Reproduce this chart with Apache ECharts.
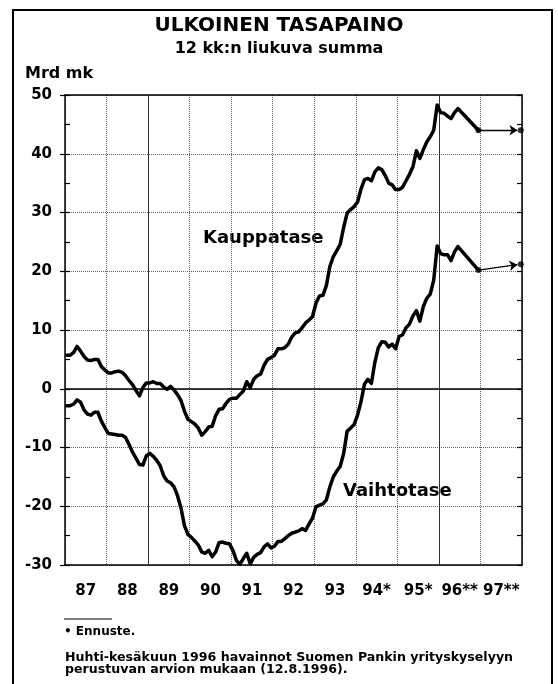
<!DOCTYPE html>
<html>
<head>
<meta charset="utf-8">
<script src="https://cdn.jsdelivr.net/npm/echarts@6/dist/echarts.min.js"></script>
<style>
  html, body { margin: 0; padding: 0; background: #fff; }
  #chart { width: 558px; height: 684px; }
</style>
</head>
<body>
<div id="chart"></div>
<script>
// vuosiselitteet (x-akseli)
var yearLabels = ["87", "88", "89", "90", "91", "92", "93", "94*", "95*", "96**", "97**"];
var yTicks = [-30, -20, -10, 0, 10, 20, 30, 40, 50];

// 12 kk liukuva summa, mrd mk, kuukausittain 1/1987 - 6/1996
var kauppatase = [
  5.7, 5.7, 6.2, 7.2, 6.4, 5.5, 4.9, 4.8, 5.0, 5.0, 3.8, 3.2,
  2.7, 2.7, 2.9, 3.0, 2.8, 2.2, 1.4, 0.7, -0.3, -1.2, 0.2, 1.0,
  1.0, 1.2, 0.9, 0.9, 0.3, -0.1, 0.4, -0.2, -1.0, -2.0, -3.8, -5.2,
  -5.6, -6.0, -6.7, -7.9, -7.3, -6.5, -6.4, -4.6, -3.5, -3.4, -2.5, -1.8,
  -1.6, -1.6, -1.0, -0.4, 1.2, 0.2, 1.6, 2.2, 2.5, 4.0, 5.0, 5.3,
  5.7, 6.8, 6.8, 7.0, 7.6, 8.8, 9.5, 9.7, 10.4, 11.2, 11.7, 12.3,
  14.6, 15.8, 15.9, 17.6, 20.8, 22.5, 23.5, 24.6, 27.5, 29.9, 30.5, 31.0,
  31.8, 34.0, 35.6, 35.8, 35.4, 36.9, 37.6, 37.3, 36.3, 35.0, 34.7, 33.9,
  33.9, 34.3, 35.4, 36.5, 37.8, 40.5, 39.2, 40.7, 42.0, 42.9, 44.0, 48.3,
  47.0, 46.9, 46.4, 46.0, 47.0, 47.7
];
var vaihtotase = [
  -2.9, -2.9, -2.6, -1.9, -2.3, -3.6, -4.3, -4.5, -4.0, -4.0, -5.5, -6.6,
  -7.6, -7.7, -7.8, -7.9, -7.9, -8.3, -9.5, -10.8, -11.8, -12.9, -13.0, -11.4,
  -11.0, -11.5, -12.2, -13.1, -14.8, -15.7, -16.0, -16.7, -18.2, -20.3, -23.3, -24.8,
  -25.3, -25.9, -26.6, -27.8, -28.0, -27.5, -28.6, -27.8, -26.2, -26.1, -26.3, -26.4,
  -27.5, -29.2, -29.9, -28.9, -28.0, -29.8, -28.7, -28.2, -27.9, -26.9, -26.4, -27.1,
  -26.8, -26.0, -26.0, -25.5, -25.0, -24.6, -24.4, -24.2, -23.8, -24.1, -23.0, -22.0,
  -20.1, -19.8, -19.6, -18.9, -16.7, -15.0, -14.0, -13.2, -11.0, -7.2, -6.7, -6.1,
  -4.5, -2.2, 0.8, 1.6, 0.9, 4.5, 7.0, 8.0, 7.9, 7.1, 7.6, 6.8,
  8.9, 9.2, 10.4, 11.0, 12.4, 13.3, 11.5, 14.0, 15.4, 16.1, 18.5, 24.3,
  23.0, 22.8, 22.8, 21.8, 23.3, 24.2
];

// ennusteet vuosien 1996 ja 1997 lopulle
var ennusteAika = [1996.95, 1997.97];
var kauppataseEnnuste = [44.0, 44.0];
var vaihtotaseEnnuste = [20.2, 21.2];

var FONT = "DejaVu Sans";

function monthly(values) {
  return values.map(function (v, i) { return [1987 + (i + 0.5) / 12, v]; });
}

var kData = monthly(kauppatase).concat([[ennusteAika[0], kauppataseEnnuste[0]]]);
var vData = monthly(vaihtotase).concat([[ennusteAika[0], vaihtotaseEnnuste[0]]]);

var dots = [];
ennusteAika.forEach(function (t, i) {
  dots.push([t, kauppataseEnnuste[i]]);
  dots.push([t, vaihtotaseEnnuste[i]]);
});

var myChart = echarts.init(document.getElementById("chart"), null, { renderer: "canvas" });

var lineStyle = { color: "#000", width: 3.5, join: "round", cap: "round" };

myChart.setOption({
  animation: false,
  backgroundColor: "#fff",
  textStyle: { fontFamily: FONT },
  grid: { left: 65, right: 36, top: 95, bottom: 119, show: false },
  xAxis: [
    {
      type: "value",
      min: 1987,
      max: 1998,
      interval: 1,
      axisLine: { show: true, onZero: false, lineStyle: { color: "#000", width: 1.5 } },
      axisTick: { show: false },
      axisLabel: { show: false },
      splitLine: { show: true, lineStyle: { color: "#666", type: [1, 1], width: 1 } }
    },
    {
      type: "category",
      position: "bottom",
      data: yearLabels,
      boundaryGap: true,
      axisLine: { show: false, onZero: false },
      axisTick: { show: false },
      axisLabel: { interval: 0, color: "#000", fontWeight: "bold", fontSize: 15, fontFamily: FONT, margin: 19 },
      splitLine: { show: false }
    },
    {
      type: "value",
      position: "top",
      min: 1987,
      max: 1998,
      axisLine: { show: true, onZero: false, lineStyle: { color: "#000", width: 1.5 } },
      axisTick: { show: false },
      axisLabel: { show: false },
      splitLine: { show: false }
    }
  ],
  yAxis: [
    {
      type: "value",
      min: yTicks[0],
      max: yTicks[yTicks.length - 1],
      interval: 10,
      position: "left",
      axisLine: { show: true, onZero: false, lineStyle: { color: "#000", width: 1.5 } },
      axisTick: { show: true, inside: false, length: 5, lineStyle: { color: "#000", width: 1.2 } },
      axisLabel: { color: "#000", fontWeight: "bold", fontSize: 15, fontFamily: FONT, margin: 13 },
      splitLine: { show: true, lineStyle: { color: "#666", type: [1, 1], width: 1 } }
    },
    {
      type: "value",
      min: yTicks[0],
      max: yTicks[yTicks.length - 1],
      interval: 5,
      position: "left",
      axisLine: { show: false },
      axisTick: { show: true, inside: true, length: 5, lineStyle: { color: "#000", width: 1.2 } },
      axisLabel: { show: false },
      splitLine: { show: false }
    },
    {
      type: "value",
      min: yTicks[0],
      max: yTicks[yTicks.length - 1],
      interval: 5,
      position: "right",
      axisLine: { show: true, onZero: false, lineStyle: { color: "#000", width: 1.5 } },
      axisTick: { show: true, inside: true, length: 5, lineStyle: { color: "#000", width: 1.2 } },
      axisLabel: { show: false },
      splitLine: { show: false }
    }
  ],
  series: [
    {
      name: "Kauppatase",
      type: "line",
      xAxisIndex: 0,
      yAxisIndex: 0,
      data: kData,
      showSymbol: false,
      symbol: "none",
      lineStyle: lineStyle,
      z: 5,
      markLine: {
        silent: true,
        symbol: "none",
        label: { show: false },
        animation: false,
        data: [
          { yAxis: 0, lineStyle: { color: "#000", width: 1.5, type: "solid" } },
          { xAxis: 1989, lineStyle: { color: "#333", width: 1, type: "solid" } },
          { xAxis: 1996, lineStyle: { color: "#333", width: 1, type: "solid" } }
        ]
      }
    },
    {
      name: "Vaihtotase",
      type: "line",
      xAxisIndex: 0,
      yAxisIndex: 0,
      data: vData,
      showSymbol: false,
      symbol: "none",
      lineStyle: lineStyle,
      z: 5
    },
    {
      name: "Ennuste",
      type: "lines",
      coordinateSystem: "cartesian2d",
      xAxisIndex: 0,
      yAxisIndex: 0,
      symbol: ["none", "arrow"],
      symbolSize: 8,
      lineStyle: { color: "#000", width: 1.3, opacity: 1, curveness: 0 },
      data: [
        { coords: [[ennusteAika[0], kauppataseEnnuste[0]], [ennusteAika[1] - 0.08, kauppataseEnnuste[1]]] },
        { coords: [[ennusteAika[0], vaihtotaseEnnuste[0]], [ennusteAika[1] - 0.08, vaihtotaseEnnuste[1] - 0.08]] }
      ],
      z: 6
    },
    {
      name: "Ennustepisteet",
      type: "scatter",
      xAxisIndex: 0,
      yAxisIndex: 0,
      data: dots,
      symbol: "circle",
      symbolSize: 6,
      itemStyle: { color: "#000" },
      z: 7
    }
  ],
  graphic: [
    {
      type: "rect",
      shape: { x: 13, y: 10, width: 539, height: 700 },
      style: { fill: "none", stroke: "#000", lineWidth: 2 },
      silent: true
    },
    {
      type: "text", left: "center", top: 16,
      style: { text: "ULKOINEN TASAPAINO", font: "bold 20px " + FONT, fill: "#000" }
    },
    {
      type: "text", left: "center", top: 41,
      style: { text: "12 kk:n liukuva summa", font: "bold 16px " + FONT, fill: "#000" }
    },
    {
      type: "text", left: 25, top: 66,
      style: { text: "Mrd mk", font: "bold 16px " + FONT, fill: "#000" }
    },
    {
      type: "text", left: 203, top: 229,
      style: { text: "Kauppatase", font: "bold 18px " + FONT, fill: "#000" }
    },
    {
      type: "text", left: 343, top: 482,
      style: { text: "Vaihtotase", font: "bold 18px " + FONT, fill: "#000" }
    },
    {
      type: "line",
      shape: { x1: 64, y1: 619, x2: 112, y2: 619 },
      style: { stroke: "#000", lineWidth: 1 }
    },
    {
      type: "text", left: 64, top: 626,
      style: { text: "\u2022 Ennuste.", font: "bold 12px " + FONT, fill: "#000" }
    },
    {
      type: "text", left: 65, top: 651,
      style: {
        text: "Huhti-kesäkuun 1996 havainnot Suomen Pankin yrityskyselyyn\nperustuvan arvion mukaan (12.8.1996).",
        font: "bold 12.6px " + FONT, fill: "#000", lineHeight: 12
      }
    }
  ]
});
</script>
</body>
</html>
